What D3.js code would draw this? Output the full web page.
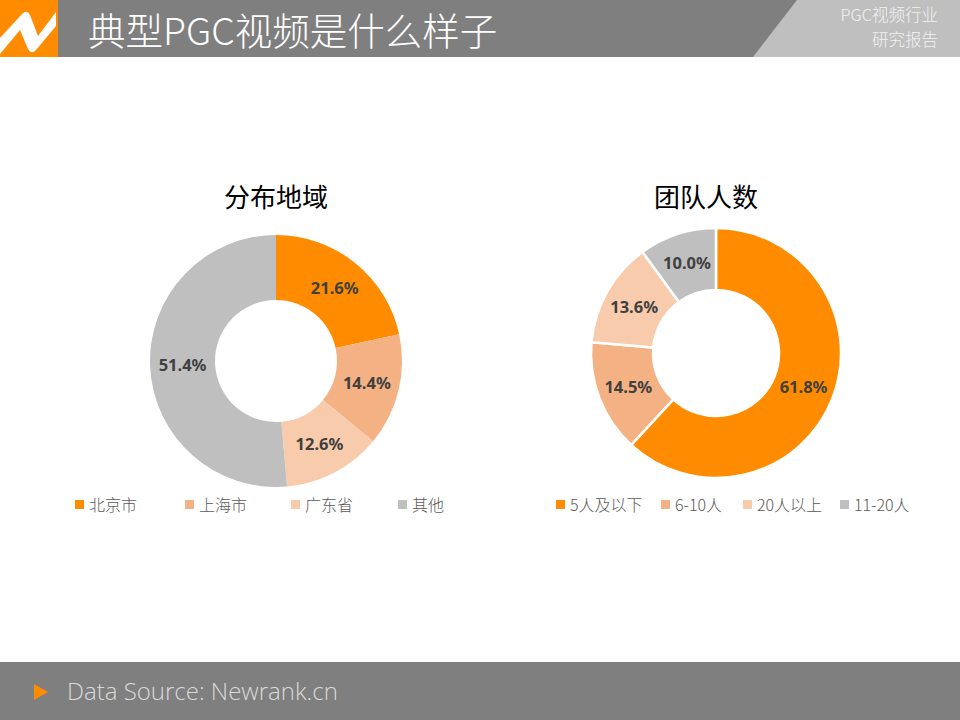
<!DOCTYPE html>
<html>
<head>
<meta charset="utf-8">
<script src="https://cdn.jsdelivr.net/npm/d3@7"></script>
<style>
  body { margin: 0; background: #fff; }
  svg { display: block; font-family: "Noto Sans CJK SC", "Noto Sans", sans-serif; }
</style>
</head>
<body>
<div id="chart"></div>
<script>
// data
var regionNames = ["北京市", "上海市", "广东省", "其他"];
var regionValues = [21.6, 14.4, 12.6, 51.4];
var teamNames = ["5人及以下", "6-10人", "20人以上", "11-20人"];
var teamValues = [61.8, 14.5, 13.6, 10.0];
var colors = ["#FF8C00", "#F4B183", "#F8CBAD", "#BFBFBF"];

var width = 960, height = 720;
var svg = d3.select("#chart").append("svg")
    .attr("width", width)
    .attr("height", height);

// header bar
svg.append("rect").attr("x", 0).attr("y", 0).attr("width", width).attr("height", 57).attr("fill", "#7F7F7F");
svg.append("path").attr("d", "M797,0 L960,0 L960,57 L753,57 Z").attr("fill", "#BFBFBF");
svg.append("rect").attr("x", 0).attr("y", 0).attr("width", 58).attr("height", 57).attr("fill", "#FF8C00");
// logo zigzag
svg.append("path")
    .attr("d", "M0,38 L22,14 Q27,9 30,15 L38,36 L56,12 L56,26 L36,50 Q31,55 28,49 L20,30 L0,54 Z")
    .attr("fill", "#fff");

svg.append("text").attr("x", 88).attr("y", 45)
    .attr("fill", "#fff").attr("font-size", 37.5).attr("font-weight", 300)
    .text("典型PGC视频是什么样子");
svg.append("text").attr("x", 938).attr("y", 21).attr("text-anchor", "end")
    .attr("fill", "#F2F2F2").attr("font-size", 16.5).attr("font-weight", 300).text("PGC视频行业");
svg.append("text").attr("x", 938).attr("y", 46).attr("text-anchor", "end")
    .attr("fill", "#F2F2F2").attr("font-size", 16.5).attr("font-weight", 300).text("研究报告");

// footer bar
svg.append("rect").attr("x", 0).attr("y", 662).attr("width", width).attr("height", 58).attr("fill", "#7F7F7F");
svg.append("path").attr("d", "M34,684 L48,692 L34,700 Z").attr("fill", "#FF8C00");
svg.append("text").attr("x", 67).attr("y", 700)
    .attr("fill", "#D9D9D9").attr("font-size", 24).attr("font-weight", 300)
    .attr("font-family", "'Open Sans', 'Noto Sans', sans-serif")
    .text("Data Source: Newrank.cn");

function drawDonut(cfg) {
  var g = svg.append("g").attr("transform", "translate(" + cfg.cx + "," + cfg.cy + ")");

  var pie = d3.pie().sort(null).value(function(d) { return d; });
  var arc = d3.arc().innerRadius(cfg.inner).outerRadius(cfg.outer);
  var labelArc = d3.arc().innerRadius((cfg.inner + cfg.outer) / 2).outerRadius((cfg.inner + cfg.outer) / 2);
  var arcs = pie(cfg.values);

  g.selectAll("path.slice")
      .data(arcs)
    .enter().append("path")
      .attr("class", "slice")
      .attr("d", arc)
      .attr("fill", function(d, i) { return colors[i]; })
      .attr("stroke", cfg.stroke ? "#fff" : "none")
      .attr("stroke-width", cfg.stroke ? 2.5 : 0);

  g.selectAll("text.lbl")
      .data(arcs)
    .enter().append("text")
      .attr("class", "lbl")
      .attr("transform", function(d) { return "translate(" + labelArc.centroid(d) + ")"; })
      .attr("text-anchor", "middle")
      .attr("dy", "0.35em")
      .attr("font-size", 16.5)
      .attr("font-weight", "bold")
      .attr("font-family", "'Noto Sans', 'DejaVu Sans', sans-serif")
      .attr("fill", "#404040")
      .text(function(d) { return d.data.toFixed(1) + "%"; });

  svg.append("text")
      .attr("x", cfg.titleX).attr("y", 207)
      .attr("text-anchor", "middle")
      .attr("font-size", 26)
      .attr("fill", "#000")
      .text(cfg.title);

  var leg = svg.selectAll("g.leg-" + cfg.key)
      .data(cfg.names)
    .enter().append("g")
      .attr("class", "leg-" + cfg.key)
      .attr("transform", function(d, i) { return "translate(" + cfg.legendX[i] + ",505)"; });
  leg.append("rect")
      .attr("x", 0).attr("y", -5).attr("width", 9).attr("height", 9)
      .attr("fill", function(d, i) { return colors[i]; });
  leg.append("text")
      .attr("x", cfg.legendGap[0]).attr("y", 0).attr("dy", "0.35em")
      .attr("font-size", 16)
      .attr("font-weight", 300)
      .attr("fill", "#595959")
      .text(function(d) { return d; });
}

drawDonut({
  key: "region", cx: 276, cy: 361, inner: 61, outer: 126, stroke: false,
  values: regionValues, names: regionNames, title: "分布地域", titleX: 276,
  legendX: [75, 185, 291, 398], legendGap: [14]
});

drawDonut({
  key: "team", cx: 716, cy: 353, inner: 63, outer: 125, stroke: true,
  values: teamValues, names: teamNames, title: "团队人数", titleX: 706,
  legendX: [556, 661, 743, 840], legendGap: [14]
});
</script>
</body>
</html>
